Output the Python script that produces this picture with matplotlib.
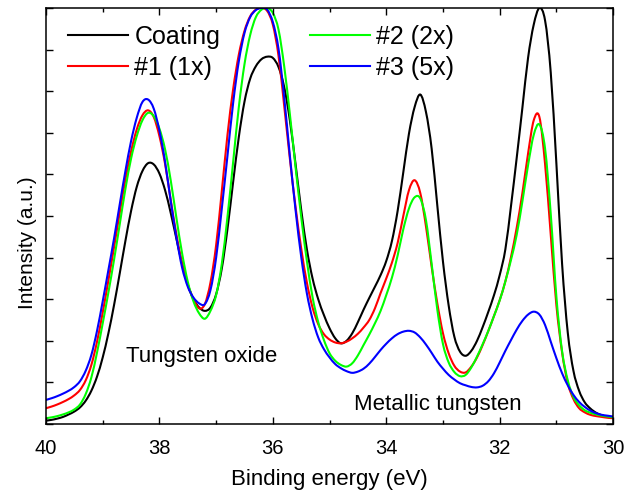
import numpy as np
import matplotlib
matplotlib.use('Agg')
import matplotlib.pyplot as plt
from matplotlib.ticker import MultipleLocator
from matplotlib.path import Path
from matplotlib.patches import PathPatch
from matplotlib.lines import Line2D

plt.rcParams['font.family'] = ['Liberation Sans', 'DejaVu Sans']

# binding energy grid, 40 -> 30 eV in 0.1 eV steps
energy = np.linspace(40, 30, 101)

coating = [0.08, 0.10, 0.13, 0.17, 0.23, 0.30, 0.40, 0.56, 0.80, 1.14,
           1.60, 2.18, 2.86, 3.62, 4.40, 5.12, 5.70, 6.08, 6.27, 6.24,
           6.02, 5.62, 5.07, 4.45, 3.85, 3.35, 3.00, 2.80, 2.72, 2.80,
           3.12, 3.74, 4.69, 5.82, 6.90, 7.75, 8.30, 8.60, 8.77, 8.83,
           8.80, 8.58, 8.10, 7.30, 6.25, 5.15, 4.20, 3.50, 3.00, 2.62,
           2.30, 2.06, 1.94, 2.00, 2.18, 2.45, 2.75, 3.03, 3.30, 3.58,
           3.92, 4.40, 5.12, 6.05, 6.98, 7.62, 7.92, 7.50, 6.62, 5.25,
           3.90, 2.85, 2.10, 1.74, 1.64, 1.76, 2.00, 2.33, 2.70, 3.10,
           3.58, 4.20, 5.25, 6.40, 7.60, 8.80, 9.60, 10.0, 9.70, 8.45,
           6.25, 3.85, 2.20, 1.28, 0.80, 0.52, 0.37, 0.27, 0.21, 0.17,
           0.14]

s1 = [0.38, 0.42, 0.47, 0.53, 0.60, 0.69, 0.82, 1.05, 1.42, 1.98,
      2.68, 3.45, 4.25, 5.08, 5.88, 6.55, 7.08, 7.42, 7.54, 7.38,
      6.92, 6.25, 5.38, 4.55, 3.85, 3.35, 3.00, 2.78, 2.88, 3.40,
      4.30, 5.60, 6.95, 8.05, 8.88, 9.45, 9.80, 9.96, 10.0, 9.93,
      9.60, 8.85, 7.65, 6.38, 5.22, 4.22, 3.40, 2.80, 2.40, 2.16,
      2.03, 1.96, 1.94, 1.98, 2.06, 2.17, 2.32, 2.50, 2.78, 3.15,
      3.50, 3.88, 4.35, 5.00, 5.62, 5.86, 5.55, 4.75, 3.78, 2.90,
      2.18, 1.70, 1.40, 1.26, 1.24, 1.38, 1.60, 1.90, 2.24, 2.60,
      2.98, 3.43, 4.02, 4.72, 5.55, 6.50, 7.30, 7.38, 6.25, 4.55,
      2.85, 1.72, 0.98, 0.60, 0.38, 0.28, 0.22, 0.19, 0.17, 0.15,
      0.14]

s2 = [0.14, 0.16, 0.19, 0.23, 0.28, 0.35, 0.47, 0.72, 1.12, 1.72,
      2.42, 3.16, 3.95, 4.80, 5.65, 6.38, 6.92, 7.30, 7.48, 7.40,
      7.10, 6.60, 5.85, 4.95, 4.10, 3.42, 2.95, 2.66, 2.53, 2.72,
      3.10, 3.85, 4.98, 6.30, 7.62, 8.65, 9.35, 9.78, 9.96, 10.0,
      9.88, 9.48, 8.60, 7.45, 6.18, 4.98, 3.92, 3.05, 2.45, 2.02,
      1.70, 1.52, 1.42, 1.38, 1.46, 1.65, 1.90, 2.15, 2.42, 2.72,
      3.10, 3.52, 4.05, 4.68, 5.18, 5.45, 5.42, 4.90, 3.85, 2.75,
      1.92, 1.48, 1.25, 1.15, 1.18, 1.36, 1.62, 1.92, 2.24, 2.60,
      2.97, 3.43, 3.95, 4.55, 5.35, 6.22, 6.95, 7.20, 6.62, 5.05,
      3.05, 1.75, 1.05, 0.65, 0.45, 0.33, 0.27, 0.23, 0.20, 0.18,
      0.16]

s3 = [0.58, 0.62, 0.67, 0.73, 0.80, 0.89, 1.03, 1.28, 1.66, 2.24,
      2.95, 3.70, 4.46, 5.28, 6.08, 6.80, 7.36, 7.74, 7.80, 7.58,
      7.05, 6.30, 5.35, 4.48, 3.76, 3.30, 3.04, 2.90, 2.88, 3.22,
      4.00, 5.18, 6.45, 7.72, 8.72, 9.40, 9.78, 9.95, 10.0, 9.96,
      9.66, 9.02, 7.85, 6.45, 5.15, 4.02, 3.14, 2.52, 2.08, 1.80,
      1.60, 1.44, 1.34, 1.27, 1.23, 1.26, 1.33, 1.45, 1.61, 1.78,
      1.93, 2.06, 2.16, 2.22, 2.24, 2.20, 2.08, 1.91, 1.71, 1.50,
      1.33, 1.18, 1.07, 0.98, 0.93, 0.89, 0.88, 0.92, 1.03, 1.22,
      1.48, 1.76, 2.02, 2.27, 2.48, 2.63, 2.70, 2.63, 2.38, 1.98,
      1.58, 1.22, 0.93, 0.70, 0.53, 0.41, 0.32, 0.26, 0.22, 0.20,
      0.18]

labels = ['Coating', '#1 (1x)', '#2 (2x)', '#3 (5x)']
colors = ['black', '#ff0000', '#00ff00', '#0000ff']


def smooth_path(x, y):
    # smooth (Catmull-Rom style) line through every read point
    x = np.asarray(x, float)
    y = np.asarray(y, float)
    n = len(x)
    verts = [(x[0], y[0])]
    codes = [Path.MOVETO]
    for i in range(n - 1):
        a = max(i - 1, 0)
        b = min(i + 2, n - 1)
        c1 = (x[i] + (x[i + 1] - x[a]) / 6, y[i] + (y[i + 1] - y[a]) / 6)
        c2 = (x[i + 1] - (x[b] - x[i]) / 6, y[i + 1] - (y[b] - y[i]) / 6)
        verts += [c1, c2, (x[i + 1], y[i + 1])]
        codes += [Path.CURVE4] * 3
    return Path(verts, codes)


fig = plt.figure(figsize=(6.25, 5.01), dpi=100)
ax = fig.add_axes([0.0736, 0.1537, 0.9074, 0.8303])

handles = []
for y, lab, c in zip([coating, s1, s2, s3], labels, colors):
    ax.add_patch(PathPatch(smooth_path(energy, y), fill=False, edgecolor=c,
                           lw=1.5, capstyle='round', joinstyle='round'))
    handles.append(Line2D([], [], color=c, lw=1.5, label=lab))

ax.set_xlim(40, 30)
ax.set_ylim(0, 10)
ax.xaxis.set_major_locator(MultipleLocator(2))
ax.xaxis.set_minor_locator(MultipleLocator(1))
ax.yaxis.set_major_locator(MultipleLocator(1))
ax.set_yticklabels([])
ax.tick_params(which='both', direction='in', top=True, right=True, width=1)
ax.tick_params(which='major', length=5, labelsize=14.5)
ax.tick_params(axis='x', which='major', pad=11)
ax.tick_params(which='minor', length=3)
for sp in ax.spines.values():
    sp.set_linewidth(1.1)

ax.set_xlabel('Binding energy (eV)', fontsize=16, labelpad=8)
ax.set_ylabel('Intensity (a.u.)', fontsize=15)
ax.yaxis.set_label_coords(-0.016, 0.435)

ax.text(37.25, 1.63, 'Tungsten oxide', fontsize=16, ha='center', va='center')
ax.text(33.09, 0.48, 'Metallic tungsten', fontsize=16, ha='center', va='center')

ax.legend(handles=handles, loc='upper left', bbox_to_anchor=(0.0388, 0.959),
          ncol=2, frameon=False, fontsize=18, handlelength=2.4,
          handletextpad=0.25, columnspacing=3.6, labelspacing=0.26,
          borderpad=0, borderaxespad=0)

fig.savefig('out.png', dpi=100)
